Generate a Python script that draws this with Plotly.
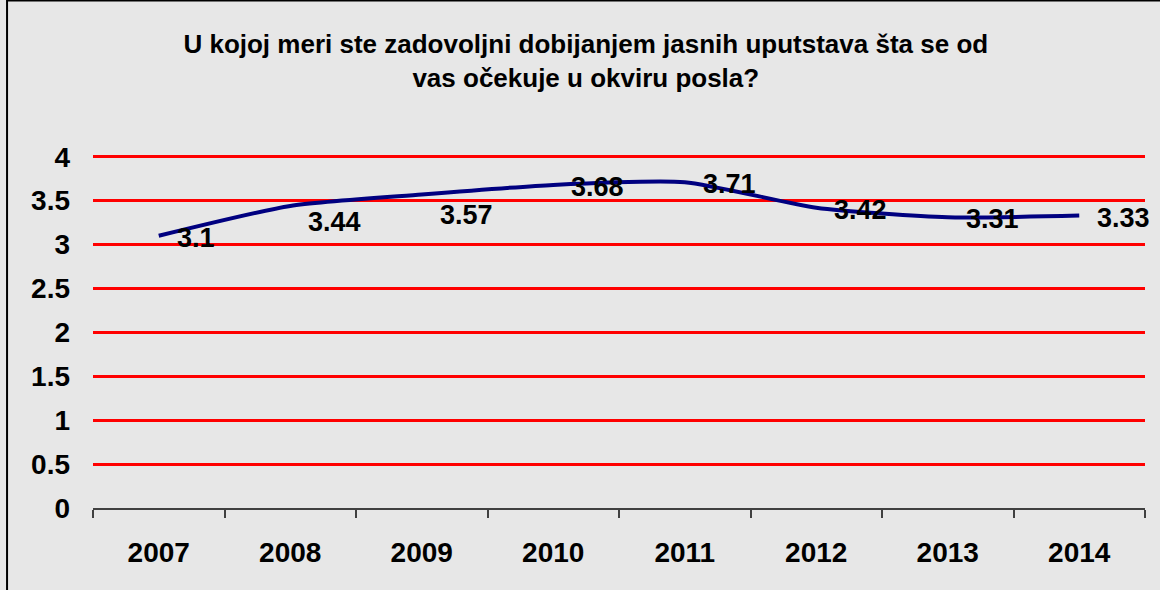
import plotly.graph_objects as go

years = ["2007", "2008", "2009", "2010", "2011", "2012", "2013", "2014"]
scores = [3.10, 3.44, 3.57, 3.68, 3.71, 3.42, 3.31, 3.33]
labels = ["3.1", "3.44", "3.57", "3.68", "3.71", "3.42", "3.31", "3.33"]
label_dy = [-2, -16, -20, -2, -2, -2, -2, -2]

title_text = ("U kojoj meri ste zadovoljni dobijanjem jasnih uputstava šta se od<br>"
              "vas očekuje u okviru posla?")

FONT = "Liberation Sans, Arial, sans-serif"

fig = go.Figure()
fig.add_trace(go.Scatter(
    x=years, y=scores, mode="lines",
    line=dict(color="#000080", width=4, shape="spline", smoothing=0.6),
    hoverinfo="skip", showlegend=False,
))

for i, (v, lab, dy) in enumerate(zip(scores, labels, label_dy)):
    fig.add_annotation(
        x=i, y=v, text=lab, showarrow=False,
        xanchor="left", yanchor="middle", xshift=16, yshift=dy,
        font=dict(family=FONT, size=27, color="black", weight="bold"),
    )

# outer border (top and left edges visible)
fig.add_shape(type="rect", xref="paper", yref="paper",
              x0=-0.0817, x1=1.2, y0=-0.4, y1=1.41,
              line=dict(color="black", width=2), fillcolor="rgba(0,0,0,0)",
              layer="below")

fig.update_layout(
    width=1160, height=590,
    margin=dict(l=93, r=15, t=148, b=82),
    paper_bgcolor="#e7e7e7", plot_bgcolor="#e7e7e7",
    title=dict(text=title_text, x=0.505, xanchor="center",
               y=1 - 53 / 590, yanchor="middle", yref="container",
               font=dict(family=FONT, size=26, color="black", weight="bold")),
    xaxis=dict(type="category", range=[-0.5, 7.5], autorange=False,
               showgrid=False, showline=True,
               linecolor="#404040", linewidth=1.5,
               ticks="outside", tickson="boundaries", ticklen=8,
               tickcolor="#404040", tickwidth=1.5, tickangle=0,
               ticklabelstandoff=19,
               tickfont=dict(family=FONT, size=28, color="black", weight="bold"),
               fixedrange=True),
    yaxis=dict(range=[0, 4.1], autorange=False,
               tickvals=[0, 0.5, 1, 1.5, 2, 2.5, 3, 3.5, 4],
               ticktext=["0", "0.5", "1", "1.5", "2", "2.5", "3", "3.5", "4"],
               showgrid=True,
               gridcolor="#ff0000", gridwidth=3, zeroline=False,
               showline=False, ticks="", ticklabelstandoff=22,
               tickfont=dict(family=FONT, size=28, color="black", weight="bold"),
               fixedrange=True),
)

fig.write_html("out.html", config={"displayModeBar": False},
               post_script="document.body.style.margin='0';")
